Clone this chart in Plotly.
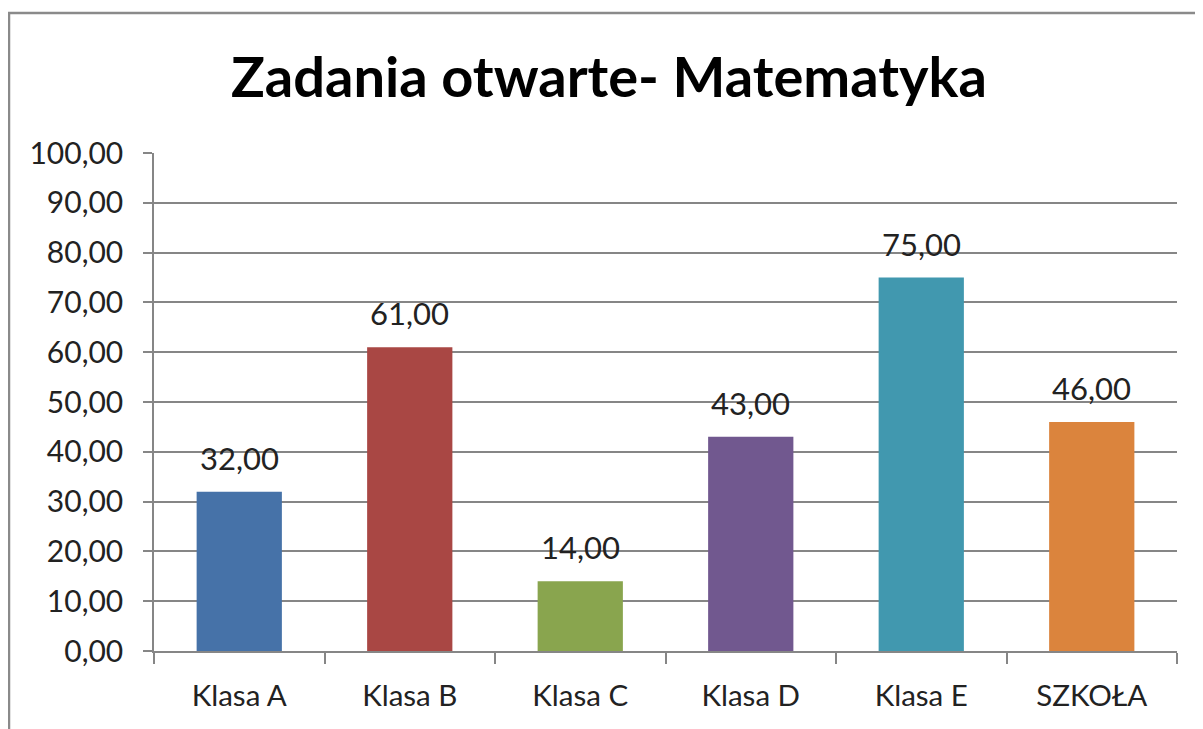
import plotly.graph_objects as go

categories = ["Klasa A", "Klasa B", "Klasa C", "Klasa D", "Klasa E", "SZKOŁA"]
values = [32.00, 61.00, 14.00, 43.00, 75.00, 46.00]
colors = ["#4672A8", "#A94744", "#89A54E", "#71588F", "#4198AF", "#DB843D"]
y_ticks = [0, 10, 20, 30, 40, 50, 60, 70, 80, 90, 100]
y_tick_labels = [("%.2f" % v).replace(".", ",") for v in y_ticks]
title_text = "Zadania otwarte- Matematyka"

# page body has an 8px margin; compensate so the picture lines up
OFF = 8
W, H = 1203 - OFF, 729 - OFF
L, R, T, B = 154 - OFF, 26, 153 - OFF, 78
pw, ph = W - L - R, H - T - B

FONT = "Lato, Calibri, 'Open Sans', sans-serif"

fig = go.Figure()
fig.add_trace(go.Bar(
    x=categories, y=values,
    marker=dict(color=colors, line=dict(width=0)),
    width=0.5,
    showlegend=False,
    hoverinfo="x+y",
))

for c, v in zip(categories, values):
    fig.add_annotation(
        x=c, y=v, xref="x", yref="y",
        text=("%.2f" % v).replace(".", ","),
        showarrow=False, yanchor="bottom", yshift=13,
        font=dict(family=FONT, size=31, color="#222222"),
    )

# outer chart border (left and top visible)
fig.add_shape(
    type="rect", xref="paper", yref="paper",
    x0=(9 - OFF - L) / pw, x1=(1260 - L) / pw,
    y0=(H - B - 800) / ph, y1=(H - B - (13 - OFF)) / ph,
    line=dict(color="#8A8A8A", width=2.5),
    fillcolor="rgba(0,0,0,0)", layer="below",
)

fig.update_layout(
    width=W, height=H,
    margin=dict(l=L, r=R, t=T, b=B, autoexpand=False),
    paper_bgcolor="white", plot_bgcolor="white",
    font=dict(family=FONT, size=30, color="#222222"),
    title=dict(
        text=title_text,
        x=(609 - OFF - L) / pw, xref="paper", xanchor="center",
        y=1 - (77 - OFF) / H, yref="container", yanchor="middle",
        font=dict(family=FONT, size=56, color="black", weight="bold"),
    ),
    bargap=0.5,
)
fig.update_xaxes(
    showline=True, linecolor="#868686", linewidth=1.5,
    ticks="outside", tickson="boundaries", ticklen=11, tickcolor="#868686", tickwidth=1.5,
    showgrid=False, ticklabelstandoff=18,
    tickfont=dict(family=FONT, size=29.5, color="#222222"),
)
fig.update_yaxes(
    range=[0, 100], tickvals=y_ticks, ticktext=y_tick_labels,
    showline=True, linecolor="#868686", linewidth=1.5,
    ticks="outside", ticklen=9, tickcolor="#868686", tickwidth=1.5,
    showgrid=True, gridcolor="#868686", gridwidth=1.5,
    zeroline=False, ticklabelstandoff=14,
    tickfont=dict(family=FONT, size=30, color="#222222"),
)

fig.write_html("out.html")
